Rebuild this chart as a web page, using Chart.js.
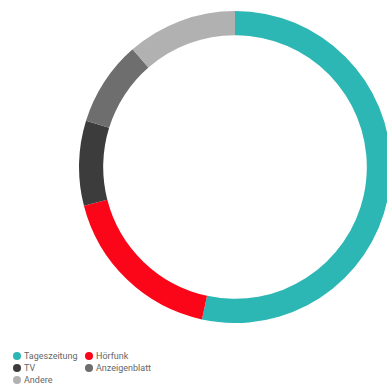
<!DOCTYPE html>
<html>
<head>
<meta charset="utf-8">
<script src="https://cdn.jsdelivr.net/npm/chart.js@4/dist/chart.umd.min.js"></script>
<style>
  html, body { margin: 0; padding: 0; background: #fff; overflow: hidden; }
  body { width: 387px; height: 387px; position: relative; }
  #wrap { position: absolute; left: 79px; top: 11px; width: 312px; height: 312px; }
  #legend { position: absolute; left: 13px; top: 350px; width: 200px;
            font-family: Roboto, sans-serif; font-size: 9px; color: #666;
            display: grid; grid-template-columns: 72px 110px; row-gap: 0px; }
  #legend div { height: 12px; line-height: 12px; white-space: nowrap; }
  #legend span { display: inline-block; width: 8px; height: 8px; border-radius: 50%;
                 margin-right: 3px; vertical-align: -1px; }
</style>
</head>
<body>
<div id="wrap"><canvas id="myDoughnutChart"></canvas></div>
<div id="legend"></div>
<script>
var labels = ['Tageszeitung', 'Hörfunk', 'TV', 'Anzeigenblatt', 'Andere'];
var values = [53.4, 17.6, 8.8, 8.8, 11.4];
var colors = ['#2cb6b4', '#fb0519', '#3c3c3c', '#6e6e6e', '#b1b1b1'];

var ctx_doughnut = document.getElementById('myDoughnutChart').getContext('2d');
var chart_doughnut = new Chart(ctx_doughnut, {
    type: 'doughnut',
    data: {
        labels: labels,
        datasets: [
            {
            data: values,
            backgroundColor: colors,
            borderWidth: 0,
            },
        ]
    },
    options: {
        responsive: true,
        maintainAspectRatio: false,
        animation: false,
        cutout: '84.5%',
        layout: { padding: 0 },
        plugins: {
            legend: { display: false },
            tooltip: { enabled: false }
        }
    }
});

// legend in two columns, like the original
var legend = document.getElementById('legend');
labels.forEach(function (label, i) {
    var item = document.createElement('div');
    var dot = document.createElement('span');
    dot.style.background = colors[i];
    item.appendChild(dot);
    item.appendChild(document.createTextNode(label));
    legend.appendChild(item);
});
</script>
</body>
</html>
